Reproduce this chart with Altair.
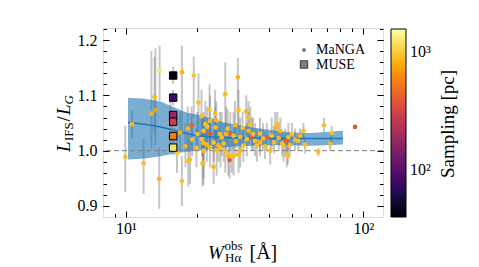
import altair as alt
import pandas as pd

FONT = "Liberation Serif"

# ---- MaNGA galaxies: W_Ha^obs, L_IFS/L_G, error range, sampling [pc]
m_w = [9.93, 10.6, 11.86, 12.8, 13.3, 13.2, 13.85, 13.8, 15.4, 16.4, 17.2, 17.2, 19.3, 17.8, 18.3, 18.2, 18.9, 20.2,
       21.0, 21.2, 16.9, 18.6, 20.8, 19.0, 20.0, 19.8, 29.6, 26.2, 29.8, 32.1, 32.8, 31.0, 22.5, 23.7, 24.0, 22.0,
       22.6, 21.2, 33.4, 20.9, 21.9, 23.4, 24.5, 25.3, 26.4, 27.5, 28.4, 30.3, 32.3, 33.9, 35.0, 36.7, 39.2, 41.1,
       42.5, 43.4, 44.7, 46.9, 48.3, 46.1, 40.5, 21.6, 22.6, 23.8, 24.9, 21.2, 22.6, 24.1, 26.2, 27.0, 28.4, 29.8,
       30.3, 31.2, 35.6, 32.8, 36.7, 21.2, 23.4, 27.3, 27.9, 47.6, 25.8, 29.0, 34.3, 37.8, 38.5, 42.0, 44.0, 45.5,
       26.8, 28.8, 25.0, 68.3, 92.3, 73.6, 72.5, 64.6, 55.9, 54.1, 53.2, 50.0, 47.6, 48.1, 56.8, 51.5, 49.0]
m_r = [0.989, 1.048, 0.977, 1.067, 1.073, 1.097, 1.146, 0.949, 1.050, 0.995, 1.142, 0.945, 1.136, 1.008, 0.981, 1.040, 1.046, 1.087,
       0.977, 1.014, 1.033, 0.984, 1.062, 1.020, 1.030, 1.005, 1.133, 1.102, 1.073, 1.071, 1.060, 1.041, 1.075, 1.067, 1.055, 1.043,
       1.031, 1.036, 1.048, 1.021, 1.011, 1.015, 1.010, 1.024, 1.030, 1.031, 1.027, 1.025, 1.021, 1.025, 1.018, 1.015, 1.024, 1.027,
       1.042, 1.048, 1.036, 1.018, 1.024, 1.009, 1.000, 1.048, 1.054, 1.042, 1.030, 1.000, 1.006, 1.000, 0.997, 0.990, 0.990, 0.993,
       1.000, 1.009, 1.009, 1.036, 1.031, 0.978, 0.971, 0.983, 0.990, 0.993, 1.013, 1.017, 1.030, 1.022, 1.008, 1.015, 1.023, 1.013,
       1.040, 1.046, 1.005, 1.046, 1.043, 1.032, 1.013, 0.998, 1.036, 1.027, 1.018, 1.030, 1.018, 0.990, 1.011, 1.020, 1.010]
m_lo = [0.925, 1.022, 0.922, 1.005, 1.010, 1.030, 1.090, 0.895, 1.000, 0.960, 1.030, 0.900, 1.060, 0.970, 0.935, 1.000, 1.010, 1.030,
        0.935, 0.970, 1.000, 0.940, 1.020, 0.990, 1.000, 0.970, 1.045, 1.040, 1.030, 1.030, 1.020, 1.010, 1.020, 1.020, 1.010, 1.000,
        1.000, 1.000, 1.020, 0.990, 0.980, 0.980, 0.980, 0.990, 1.000, 1.000, 1.000, 1.000, 0.990, 1.000, 0.990, 0.990, 1.000, 1.000,
        1.010, 1.020, 1.010, 0.990, 1.000, 0.980, 0.975, 1.010, 1.020, 1.010, 1.000, 0.950, 0.970, 0.955, 0.960, 0.955, 0.955, 0.960,
        0.970, 0.980, 0.980, 1.010, 1.000, 0.938, 0.940, 0.950, 0.960, 0.970, 0.980, 0.990, 1.000, 1.000, 0.985, 0.995, 1.000, 0.990,
        1.010, 1.010, 0.970, 1.033, 1.040, 1.015, 1.000, 0.990, 1.020, 1.010, 1.000, 1.010, 1.000, 0.975, 0.995, 1.000, 0.990]
m_hi = [1.045, 1.073, 1.022, 1.180, 1.185, 1.170, 1.190, 1.005, 1.090, 1.030, 1.190, 0.990, 1.170, 1.050, 1.020, 1.080, 1.080, 1.140,
        1.020, 1.060, 1.070, 1.030, 1.110, 1.050, 1.070, 1.040, 1.168, 1.160, 1.110, 1.100, 1.090, 1.070, 1.120, 1.110, 1.090, 1.080,
        1.060, 1.070, 1.080, 1.060, 1.050, 1.060, 1.050, 1.070, 1.080, 1.070, 1.070, 1.060, 1.050, 1.060, 1.050, 1.040, 1.050, 1.060,
        1.070, 1.070, 1.060, 1.040, 1.050, 1.030, 1.025, 1.090, 1.100, 1.080, 1.070, 1.040, 1.040, 1.040, 1.030, 1.025, 1.020, 1.030,
        1.030, 1.040, 1.040, 1.070, 1.060, 1.020, 1.010, 1.010, 1.020, 1.015, 1.050, 1.050, 1.060, 1.050, 1.035, 1.040, 1.050, 1.035,
        1.075, 1.090, 1.040, 1.060, 1.046, 1.045, 1.025, 1.005, 1.050, 1.040, 1.030, 1.050, 1.030, 1.005, 1.025, 1.040, 1.030]
m_s = [900, 850, 900, 820, 700, 880, 1250, 850, 800, 1000, 850, 900, 900, 850, 900, 850, 420, 900,
       900, 850, 800, 900, 900, 880, 900, 900, 850, 880, 900, 850, 900, 900, 950, 900, 850, 900,
       400, 900, 900, 900, 850, 900, 800, 900, 850, 420, 900, 850, 900, 400, 900, 850, 420, 900,
       850, 900, 900, 420, 900, 850, 900, 900, 850, 900, 900, 900, 850, 900, 900, 850, 900, 900,
       850, 900, 900, 850, 900, 900, 850, 420, 900, 900, 900, 800, 900, 850, 900, 900, 850, 900,
       900, 850, 900, 900, 380, 900, 850, 900, 900, 850, 900, 900, 420, 900, 900, 850, 900]

# ---- MUSE galaxy at different samplings
u_w = [15.8, 15.8, 15.8, 15.8, 15.8, 15.8]
u_r = [1.136, 1.096, 1.0645, 1.0525, 1.0265, 1.0055]
u_lo = [1.121, 1.082, 1.050, 1.038, 1.012, 0.992]
u_hi = [1.152, 1.110, 1.079, 1.067, 1.041, 1.019]
u_s = [42, 80, 180, 280, 540, 1200]

# ---- running median and band
b_w = [10.2, 12, 14, 16, 18, 20, 23, 26, 30, 35, 40, 50, 60, 70, 82]
b_med = [1.051, 1.048, 1.043, 1.037, 1.031, 1.027, 1.025, 1.024, 1.023, 1.023, 1.022, 1.022, 1.022, 1.022, 1.022]
b_lo = [0.984, 0.986, 0.990, 0.995, 0.998, 1.000, 1.003, 1.006, 1.008, 1.009, 1.010, 1.010, 1.009, 1.010, 1.011]
b_hi = [1.096, 1.094, 1.089, 1.078, 1.069, 1.065, 1.058, 1.051, 1.046, 1.041, 1.038, 1.033, 1.032, 1.034, 1.036]

ref_line = [1.0]

x_major = [10, 100]
x_minor = [9, 20, 30, 40, 50, 60, 70, 80, 90]
y_major = [0.9, 1.0, 1.1, 1.2]
y_minor = [0.90, 0.92, 0.94, 0.96, 0.98, 1.00, 1.02, 1.04, 1.06, 1.08, 1.10, 1.12, 1.14, 1.16, 1.18, 1.20, 1.22]
cb_ticks = [100, 1000]

manga = pd.DataFrame({"w": m_w, "r": m_r, "lo": m_lo, "hi": m_hi, "s": m_s})
muse = pd.DataFrame({"w": u_w, "r": u_r, "lo": u_lo, "hi": u_hi, "s": u_s})
band = pd.DataFrame({"w": b_w, "med": b_med, "lo": b_lo, "hi": b_hi})
refd = pd.DataFrame({"r": ref_line})

xs = alt.Scale(type="log", domain=[8, 121], nice=False)
ys = alt.Scale(domain=[0.88, 1.222], nice=False, zero=False)
cs = alt.Scale(type="log", domain=[40, 1550], scheme="inferno")

common = dict(domain=False, grid=False, title=None, tickColor="black", tickWidth=1,
              labelFont=FONT, labelFontSize=16, labelColor="black")


def xaxis(orient, major, labels):
    kw = dict(common)
    if major:
        kw.update(values=x_major, tickSize=6, offset=-6)
    else:
        kw.update(values=x_minor, tickSize=3.5, offset=-3.5)
    if labels:
        kw.update(labels=True, labelExpr="datum.value < 50 ? '10¹' : '10²'", labelPadding=3)
    else:
        kw.update(labels=False)
    return alt.Axis(orient=orient, **kw)


def yaxis(orient, major, labels):
    kw = dict(common)
    if major:
        kw.update(values=y_major, tickSize=6, offset=-6)
    else:
        kw.update(values=y_minor, tickSize=3.5, offset=-3.5)
    if labels:
        kw.update(labels=True, format=".1f", labelPadding=6)
    else:
        kw.update(labels=False)
    return alt.Axis(orient=orient, **kw)


errs = alt.Chart(manga).mark_rule(color="gray", opacity=0.45, strokeWidth=2).encode(
    x=alt.X("w:Q", scale=xs, axis=xaxis("bottom", True, True)),
    y=alt.Y("lo:Q", scale=ys, axis=yaxis("left", True, True)),
    y2="hi:Q",
)

area = alt.Chart(band).mark_area(color="#1f77b4", opacity=0.6).encode(
    x=alt.X("w:Q", scale=xs, axis=xaxis("bottom", False, False)),
    y=alt.Y("lo:Q", scale=ys, axis=yaxis("left", False, False)),
    y2="hi:Q",
)

med = alt.Chart(band).mark_line(color="#1f77b4", strokeWidth=1.5).encode(
    x=alt.X("w:Q", scale=xs, axis=xaxis("top", True, False)),
    y=alt.Y("med:Q", scale=ys, axis=yaxis("right", True, False)),
)

dash = alt.Chart(refd).mark_rule(color="gray", strokeDash=[5, 3], strokeWidth=1).encode(
    y=alt.Y("r:Q", scale=ys, axis=None),
)

pts = alt.Chart(manga).mark_point(filled=True, shape="circle", size=22, opacity=1).encode(
    x=alt.X("w:Q", scale=xs, axis=xaxis("top", False, False)),
    y=alt.Y("r:Q", scale=ys, axis=yaxis("right", False, False)),
    color=alt.Color("s:Q", scale=cs, legend=alt.Legend(
        orient="none", legendX=288, legendY=1, direction="vertical", title=None,
        gradientLength=188, gradientThickness=15, values=cb_ticks,
        labelExpr="datum.value < 500 ? '10²' : '10³'", labelFont=FONT, labelFontSize=16,
        labelColor="black", labelOffset=4, gradientStrokeColor="black", gradientStrokeWidth=1,
        padding=0)),
)

u_errs = alt.Chart(muse).mark_rule(color="gray", opacity=0.45, strokeWidth=2).encode(
    x=alt.X("w:Q", scale=xs, axis=None),
    y=alt.Y("lo:Q", scale=ys, axis=None),
    y2="hi:Q",
)

u_pts = alt.Chart(muse).mark_point(filled=True, shape="square", size=55, opacity=1,
                                   stroke="black", strokeWidth=1, strokeOpacity=1).encode(
    x=alt.X("w:Q", scale=xs, axis=None),
    y=alt.Y("r:Q", scale=ys, axis=None),
    fill=alt.Fill("s:Q", scale=cs, legend=None),
)


def txt(s, x, y, size, angle=0, style="normal", align="left", baseline="alphabetic"):
    return alt.Chart(pd.DataFrame({"t": [s]})).mark_text(
        font=FONT, fontSize=size, angle=angle, fontStyle=style, align=align,
        baseline=baseline, color="black").encode(
        x=alt.value(x), y=alt.value(y), text=alt.value(s))


texts = [
    # y title  L_IFS / L_G
    txt("L", -33, 124, 19, angle=270, style="italic"),
    txt("IFS", -30, 113, 13, angle=270),
    txt("/", -33, 93.5, 19, angle=270),
    txt("L", -33, 87, 19, angle=270, style="italic"),
    txt("G", -30, 76.5, 13, angle=270, style="italic"),
    # x title  W_Ha^obs [Å]
    txt("W", 105, 231, 19, style="italic"),
    txt("obs", 121.5, 221.5, 13),
    txt("Hα", 122, 233.5, 13),
    txt("[Å]", 146.5, 231, 20),
    # colorbar title
    txt("Sampling [pc]", 351, 96, 19, angle=270, align="center"),
    # legend
    txt("MaNGA", 213, 22, 14, baseline="middle"),
    txt("MUSE", 213, 36.5, 14, baseline="middle"),
]

leg_dot = alt.Chart(pd.DataFrame({"t": ["MaNGA"]})).mark_point(
    filled=True, shape="circle", size=18, color="gray", opacity=1).encode(
    x=alt.value(201), y=alt.value(22))
leg_sq = alt.Chart(pd.DataFrame({"t": ["MUSE"]})).mark_point(
    filled=True, shape="square", size=55, fill="gray", stroke="#333333", strokeWidth=1,
    opacity=1, strokeOpacity=1).encode(
    x=alt.value(201), y=alt.value(36.5))

chart = alt.layer(errs, area, med, dash, pts, u_errs, u_pts, leg_dot, leg_sq, *texts).resolve_axis(
    x="independent", y="independent"
).resolve_legend(color="independent", fill="independent").properties(
    width=280, height=189,
    autosize=alt.AutoSizeParams(type="none"),
    padding={"left": 95, "top": 20, "right": 82, "bottom": 47},
).configure_view(stroke="black", strokeWidth=1.2).configure(font=FONT)

chart.save("out.html", embed_options={"renderer": "svg", "actions": False})
